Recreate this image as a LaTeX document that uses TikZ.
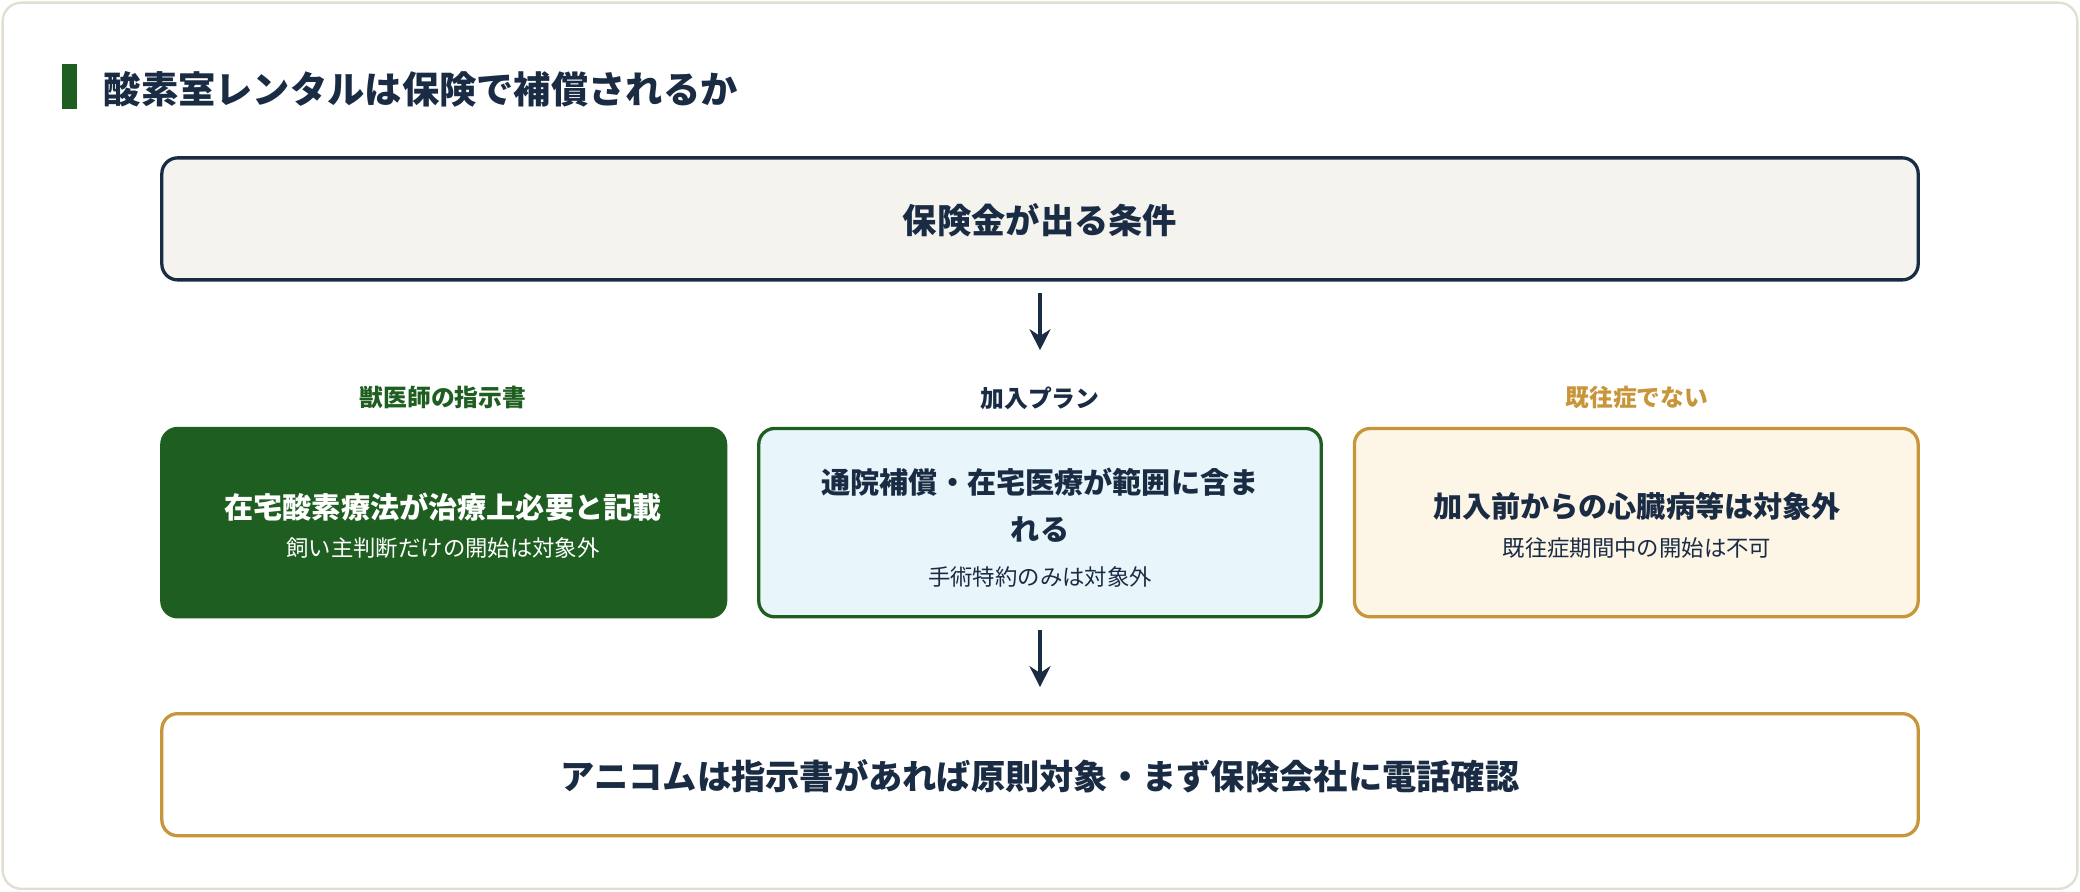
\documentclass[tikz,border=0pt]{standalone}
\usepackage{fontspec}
\setmainfont{Noto Sans CJK JP}
\usetikzlibrary{arrows.meta}
\definecolor{navy}{HTML}{1A2B44}
\definecolor{dgreen}{HTML}{1E5E20}
\definecolor{gold}{HTML}{C8963A}
\definecolor{cream}{HTML}{F5F3EE}
\definecolor{lblue}{HTML}{E8F6FB}
\definecolor{lgold}{HTML}{FDF5E6}
\definecolor{frame}{HTML}{E2DFCF}
\tikzset{
  box/.style={rounded corners=12pt*0.567, line width=2.5*0.567pt},
  ttl/.style={font=\fontsize{12.5}{16}\selectfont\bfseries, align=center},
  sub/.style={font=\fontsize{9.6}{12}\selectfont},
  lbl/.style={font=\fontsize{10.2}{12}\selectfont\bfseries},
  big/.style={font=\fontsize{14.7}{18}\selectfont\bfseries, text=navy},
  arr/.style={-{Stealth[length=9pt,width=9pt]}, line width=1.4pt, draw=navy}
}
\begin{document}
\begin{tikzpicture}[x=0.02cm,y=-0.02cm]
\useasboundingbox (0,0) rectangle (1568,672);
\draw[frame, line width=1pt, fill=white, rounded corners=8pt] (2,2) rectangle (1566,670);
\fill[dgreen] (47,48) rectangle (58,82);
\node[anchor=west, font=\fontsize{16}{20}\selectfont\bfseries, text=navy] (title) at (72,67) {酸素室レンタルは保険で補償されるか};

\draw[box, draw=navy, fill=cream] (122,119) rectangle (1446,211);
\node[big] (top) at (784,166) {保険金が出る条件};
\coordinate (a1s) at (784,221); \coordinate (a1e) at (784,264);
\draw[arr] (a1s) -- (a1e);

\node[lbl, text=dgreen] (l1) at (334,300) {獣医師の指示書};
\node[lbl, text=navy] (l2) at (784,300) {加入プラン};
\node[lbl, text=gold] (l3) at (1234,300) {既往症でない};

\draw[box, draw=dgreen, fill=dgreen] (122,323) rectangle (547,465);
\node[ttl, text=white] (b1t) at (334,382) {在宅酸素療法が治療上必要と記載};
\node[sub, text=white] (b1s) at (334,413) {飼い主判断だけの開始は対象外};

\draw[box, draw=dgreen, fill=lblue] (572,323) rectangle (996,465);
\node[ttl, text=navy, font=\fontsize{12.5}{20}\selectfont\bfseries] (b2t) at (784,381) {通院補償・在宅医療が範囲に含ま\\れる};
\node[sub, text=navy] (b2s) at (784,435) {手術特約のみは対象外};

\draw[box, draw=gold, fill=lgold] (1021,323) rectangle (1446,465);
\node[ttl, text=navy] (b3t) at (1234,382) {加入前からの心臓病等は対象外};
\node[sub, text=navy] (b3s) at (1234,413) {既往症期間中の開始は不可};

\coordinate (a2s) at (784,475); \coordinate (a2e) at (784,518);
\draw[arr] (a2s) -- (a2e);

\draw[box, draw=gold, fill=white] (122,538) rectangle (1446,630);
\node[big] (bot) at (784,585) {アニコムは指示書があれば原則対象・まず保険会社に電話確認};
\end{tikzpicture}
\end{document}
